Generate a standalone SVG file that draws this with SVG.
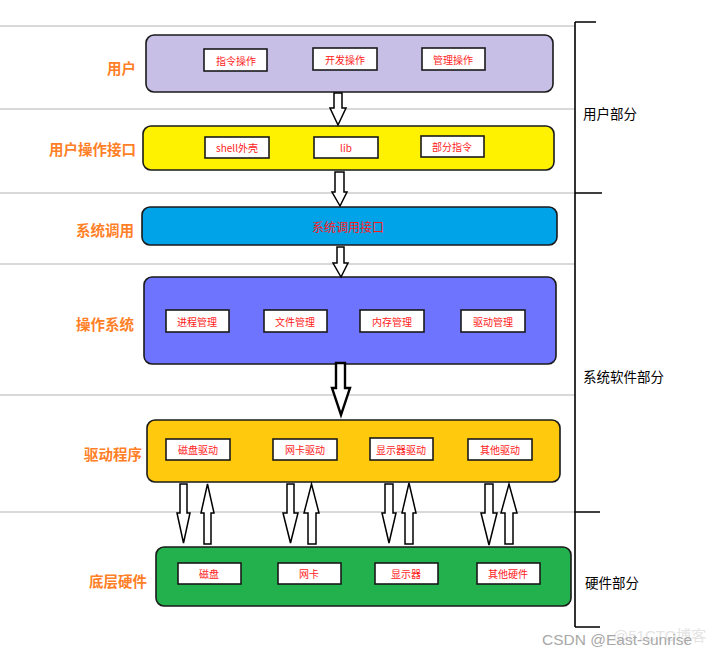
<svg xmlns="http://www.w3.org/2000/svg" width="718" height="656" viewBox="0 0 718 656">
<style>
.sep{stroke:#b4b4b4;stroke-width:1.2}
.br{stroke:#000;stroke-width:1.6;fill:none}
.node{stroke:#1a1a1a;stroke-width:1.6}
.box{fill:#fff;stroke:#1a1a1a;stroke-width:1.6}
.bt{font-family:"Noto Sans CJK SC","Liberation Sans",sans-serif;font-size:10px;fill:#ff1a1a;text-anchor:middle;dominant-baseline:central}
.lab{font-family:"Noto Sans CJK SC","Liberation Sans",sans-serif;font-size:14.5px;font-weight:bold;fill:#ff7f27;text-anchor:end;dominant-baseline:central}
.side{font-family:"Noto Sans CJK SC","Liberation Sans",sans-serif;font-size:13.5px;fill:#000;dominant-baseline:central}
.ar{fill:#fff;stroke:#000;stroke-width:1.5;stroke-linejoin:miter}
</style>
<rect width="718" height="656" fill="#fff"/>
<g id="separators">
<line class="sep" x1="0" y1="26" x2="575" y2="26"/>
<line class="sep" x1="0" y1="109" x2="575" y2="109"/>
<line class="sep" x1="0" y1="193" x2="575" y2="193"/>
<line class="sep" x1="0" y1="264" x2="575" y2="264"/>
<line class="sep" x1="0" y1="395" x2="575" y2="395"/>
<line class="sep" x1="0" y1="512" x2="575" y2="512"/>
</g>
<g id="bracket">
<path class="br" d="M575 22 V627 M575 22 H596 M575 193 H602 M575 512 H600 M575 627 H600"/>
<text class="side" x="583" y="113">用户部分</text>
<text class="side" x="583" y="376">系统软件部分</text>
<text class="side" x="585" y="582">硬件部分</text>
</g>
<g id="user">
<rect class="node" x="146" y="35" width="407" height="57" rx="8" fill="#c8bfe7"/>
<text class="lab" x="136" y="67">用户</text>
<rect class="box" x="204" y="49" width="63" height="22"/><text class="bt" x="236" y="60">指令操作</text>
<rect class="box" x="313" y="48" width="64" height="22"/><text class="bt" x="345" y="59">开发操作</text>
<rect class="box" x="422" y="48" width="63" height="22"/><text class="bt" x="453" y="59">管理操作</text>
</g>
<g id="user-interface">
<rect class="node" x="143" y="126" width="411" height="44" rx="8" fill="#fff200"/>
<text class="lab" x="136" y="148">用户操作接口</text>
<rect class="box" x="205" y="137" width="64" height="21"/><text class="bt" x="237" y="147.5">shell外壳</text>
<rect class="box" x="314" y="137" width="64" height="21"/><text class="bt" x="346" y="147.5">lib</text>
<rect class="box" x="421" y="136" width="63" height="21"/><text class="bt" x="452" y="146.5">部分指令</text>
</g>
<g id="syscall">
<rect class="node" x="142" y="207" width="415" height="38" rx="8" fill="#00a2e8"/>
<text class="lab" x="134" y="229">系统调用</text>
<text class="bt" x="348" y="226" style="font-size:12px">系统调用接口</text>
</g>
<g id="os">
<rect class="node" x="144" y="277" width="412" height="87" rx="8" fill="#6f74ff"/>
<text class="lab" x="134" y="323">操作系统</text>
<rect class="box" x="166" y="310" width="63" height="22"/><text class="bt" x="197" y="321">进程管理</text>
<rect class="box" x="264" y="310" width="63" height="22"/><text class="bt" x="295" y="321">文件管理</text>
<rect class="box" x="360" y="310" width="64" height="22"/><text class="bt" x="392" y="321">内存管理</text>
<rect class="box" x="461" y="310" width="64" height="22"/><text class="bt" x="493" y="321">驱动管理</text>
</g>
<g id="drivers">
<rect class="node" x="147" y="420" width="413" height="62" rx="8" fill="#ffc90e"/>
<text class="lab" x="142" y="453">驱动程序</text>
<rect class="box" x="166" y="439" width="64" height="21"/><text class="bt" x="198" y="449.5">磁盘驱动</text>
<rect class="box" x="273" y="439" width="64" height="21"/><text class="bt" x="305" y="449.5">网卡驱动</text>
<rect class="box" x="370" y="438" width="63" height="22"/><text class="bt" x="401" y="449">显示器驱动</text>
<rect class="box" x="468" y="439" width="64" height="21"/><text class="bt" x="500" y="449.5">其他驱动</text>
</g>
<g id="hardware">
<rect class="node" x="156" y="547" width="415" height="59" rx="8" fill="#22b14c"/>
<text class="lab" x="147" y="580">底层硬件</text>
<rect class="box" x="178" y="563" width="63" height="21"/><text class="bt" x="209" y="573.5">磁盘</text>
<rect class="box" x="278" y="563" width="63" height="21"/><text class="bt" x="309" y="573.5">网卡</text>
<rect class="box" x="375" y="563" width="63" height="21"/><text class="bt" x="406" y="573.5">显示器</text>
<rect class="box" x="477" y="563" width="63" height="21"/><text class="bt" x="508" y="573.5">其他硬件</text>
</g>
<g id="connectors">
<polygon class="ar" points="334,93 342,93 342,108 346,108 338,125 330,108 334,108"/>
<polygon class="ar" points="335,172 344,172 344,192 347,192 340,206 332,192 335,192"/>
<polygon class="ar" points="337,247 344,247 344,263 348,263 341,277 333,263 337,263"/>
<polygon class="ar" style="stroke-width:2.4" points="336,363 345,363 345,388 350,388 341,415 332,388 336,388"/>
<polygon class="ar" points="180,484 187,484 187,513 190,513 183.5,543 177,513 180,513"/>
<polygon class="ar" points="204,544 211,544 211,513 214,513 207.5,484 201,513 204,513"/>
<polygon class="ar" points="287,484 294,484 294,513 298,513 290.5,543 283,513 287,513"/>
<polygon class="ar" points="308,544 316,544 316,513 319,513 311.5,484 304,513 308,513"/>
<polygon class="ar" points="385,484 393,484 393,513 396,513 389,543 382,513 385,513"/>
<polygon class="ar" points="405,544 413,544 413,513 416,513 409,483 402,513 405,513"/>
<polygon class="ar" points="485,484 493,484 493,513 497,513 489,545 481,513 485,513"/>
<polygon class="ar" points="505,544 513,544 513,513 517,513 509,484 501,513 505,513"/>
</g>
<g id="watermark">
<text x="613" y="641" style="font-family:'Liberation Sans','Noto Sans CJK SC',sans-serif;font-size:15px;fill:#e4e4e4">@51CTO博客</text>
<text x="542" y="645" style="font-family:'Liberation Sans',sans-serif;font-size:15.5px;fill:#a8a8a8">CSDN @East-sunrise</text>
</g>
</svg>
